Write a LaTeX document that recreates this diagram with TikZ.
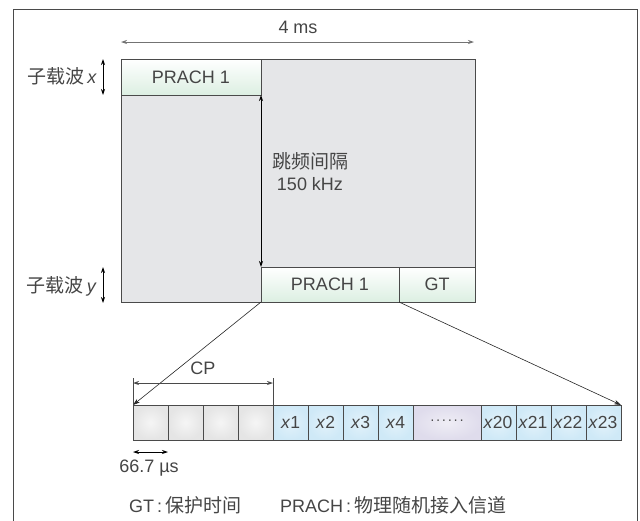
\documentclass[tikz,border=0pt]{standalone}
\usepackage{fontspec}
\setmainfont{Liberation Sans}
\newfontfamily\cjk{Noto Sans CJK SC}
\usetikzlibrary{arrows.meta}
\definecolor{ink}{HTML}{454545}
\definecolor{edge}{HTML}{4A4A4A}
\definecolor{areagray}{HTML}{E5E6E8}
\definecolor{prachgreen}{HTML}{DCEFE2}
\definecolor{cellblue}{HTML}{CFE9F7}
\definecolor{cellgray}{HTML}{DEDEDE}
\definecolor{celllilac}{HTML}{DFDCEC}
\newcommand\cjktext[1]{{\fontsize{19}{22}\selectfont\cjk #1}}
\newcommand\dotrow{\textperiodcentered\kern1.2pt\textperiodcentered\kern1.2pt\textperiodcentered\kern1.2pt\textperiodcentered\kern1.2pt\textperiodcentered\kern1.2pt\textperiodcentered}
\tikzset{
  lbl/.style={text=ink, font=\fontsize{18}{21}\selectfont, inner sep=0pt},
  area/.style={draw=edge, line width=0.8pt, fill=areagray, inner sep=0pt, outer sep=0pt},
  prachbox/.style={draw=edge, line width=0.8pt, top color=white, bottom color=prachgreen,
    text=ink, font=\fontsize{18}{21}\selectfont, inner sep=0pt, outer sep=0pt},
  cell/.style={draw=edge, line width=0.8pt, minimum width=35pt, minimum height=35pt,
    inner sep=0pt, outer sep=0pt, anchor=west, text=ink, font=\fontsize{17.5}{20}\selectfont},
  cpcell/.style={cell, inner color=white!70!cellgray, outer color=cellgray!80},
  symcell/.style={cell, inner color=white!40!cellblue, outer color=cellblue},
  dotcell/.style={cell, minimum width=68pt, inner color=white!50!celllilac, outer color=celllilac},
  dimarrow/.style={draw=edge, line width=0.8pt, {Stealth[length=6pt,width=4pt]}-{Stealth[length=6pt,width=4pt]}},
  spreadline/.style={draw=black!85, line width=0.6pt, -{Stealth[length=7pt,width=4.5pt]}},
}
\begin{document}
\begin{tikzpicture}[x=1pt, y=-1pt]
\useasboundingbox (0,0) rectangle (640,520);
% outer frame
\draw[edge, line width=0.9pt] (13,530) -- (13,9) -- (637,9) -- (637,530);

% time-frequency resource area
\node[area, minimum width=354pt, minimum height=243pt] (grid) at (298,180.5) {};
\node[prachbox, minimum width=140pt, minimum height=36pt] (p1) at (191,77) {PRACH 1};
\node[prachbox, minimum width=138pt, minimum height=35pt] (p2) at (330,284.5) {PRACH 1};
\node[prachbox, minimum width=76pt, minimum height=35pt] (gt) at (437,284.5) {GT};

% 4 ms duration
\coordinate (tL) at (121,42);
\coordinate (tR) at (474,42);
\draw[dimarrow, draw=black!55] (tL) -- (tR);
\node[lbl] (tlab) at (298,27) {4 ms};

% hopping distance
\draw[dimarrow, draw=black] (p1.south east) -- (p2.north west);
\node[lbl] (hop) at (310,161) {\cjktext{跳频间隔}};
\node[lbl] (hopv) at (310,184) {150 kHz};

% subcarrier labels
\node[lbl, anchor=east] (scx) at (97,76) {\cjktext{子载波}\,\textit{x}};
\coordinate (sxT) at (103,59);
\coordinate (sxB) at (103,95);
\draw[dimarrow, draw=black] (sxT) -- (sxB);
\node[lbl, anchor=east] (scy) at (97,286) {\cjktext{子载波}\,\textit{y}};
\coordinate (syT) at (103,267);
\coordinate (syB) at (103,303);
\draw[dimarrow, draw=black] (syT) -- (syB);

% expanded preamble: CP part then 23 symbols
\node[cpcell] (c1) at (133,422.5) {};
\node[cpcell] (c2) at (c1.east) {};
\node[cpcell] (c3) at (c2.east) {};
\node[cpcell] (c4) at (c3.east) {};
\node[symcell] (s1) at (c4.east) {\textit{x}1};
\node[symcell] (s2) at (s1.east) {\textit{x}2};
\node[symcell] (s3) at (s2.east) {\textit{x}3};
\node[symcell] (s4) at (s3.east) {\textit{x}4};
\node[dotcell] (sd) at (s4.east) {\fontsize{14}{16}\selectfont\dotrow};
\node[symcell] (s20) at (sd.east) {\kern-1pt\textit{x}20};
\node[symcell] (s21) at (s20.east) {\kern-1pt\textit{x}21};
\node[symcell] (s22) at (s21.east) {\kern-1pt\textit{x}22};
\node[symcell] (s23) at (s22.east) {\kern-1pt\textit{x}23};

% zoom lines from the hopped PRACH
\draw[spreadline] (p2.south west) -- (c1.north west);
\draw[spreadline] (p2.south east) -- (s23.north east);

% CP length
\coordinate (cpL) at (133,378);
\coordinate (cpR) at (273,378);
\draw[edge, line width=0.6pt] (cpL) -- (c1.north west);
\draw[edge, line width=0.6pt] (cpR) -- (c4.north east);
\coordinate (cpaL) at (133,383);
\coordinate (cpaR) at (273,383);
\draw[dimarrow] (cpaL) -- (cpaR);
\node[lbl] (cplab) at (203,368) {CP};

% sample length
\coordinate (uL) at (133,452);
\coordinate (uR) at (168,452);
\draw[dimarrow, draw=black] (uL) -- (uR);
\node[lbl] (ulab) at (149,468) {66.7 µs};

% legend
\node[lbl, anchor=west] (leg1) at (129,505) {GT\,:\,\cjktext{保护时间}};
\node[lbl, anchor=west] (leg2) at (280,505) {PRACH\,:\,\cjktext{物理随机接入信道}};
\end{tikzpicture}
\end{document}
